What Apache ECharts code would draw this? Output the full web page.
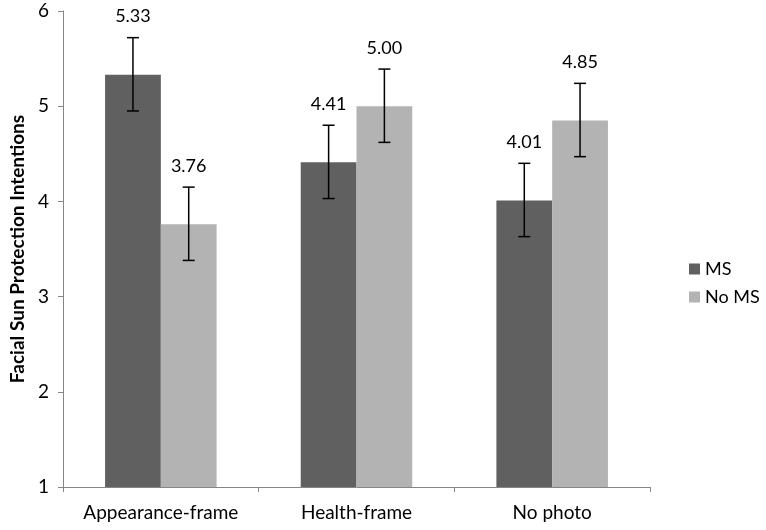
<!DOCTYPE html>
<html>
<head>
<meta charset="utf-8">
<script src="https://cdn.jsdelivr.net/npm/echarts@6/dist/echarts.min.js"></script>
<style>
html,body{margin:0;padding:0;background:#fff;}
#main{width:766px;height:530px;}
</style>
</head>
<body>
<div id="main"></div>
<script>
var categories = ['Appearance-frame', 'Health-frame', 'No photo'];
var msValues = [5.33, 4.41, 4.01];
var noMsValues = [3.76, 5.00, 4.85];
// error bar ends
var msLow = [4.95, 4.03, 3.63];
var msHigh = [5.72, 4.80, 4.40];
var noMsLow = [3.38, 4.62, 4.47];
var noMsHigh = [4.15, 5.39, 5.24];
var yTicks = [1, 2, 3, 4, 5, 6];

var catGap = 0.43;
var fontFam = 'Lato, "Open Sans", sans-serif';

function errData(vals, low, high) {
    var d = [];
    for (var i = 0; i < vals.length; i++) {
        d.push([i, low[i], high[i], vals[i]]);
    }
    return d;
}

function errRender(side) {
    return function (params, api) {
        var band = api.size([1, 0])[0];
        var barW = band * (1 - catGap) / 2;
        var x0 = api.coord([api.value(0), 0])[0] + side * barW / 2;
        var top = api.coord([api.value(0), api.value(2)])[1];
        var bot = api.coord([api.value(0), api.value(1)])[1];
        var cap = 6;
        var st = {stroke: '#000', lineWidth: 1.5};
        return {
            type: 'group',
            children: [
                {type: 'line', shape: {x1: x0, y1: top, x2: x0, y2: bot}, style: st},
                {type: 'line', shape: {x1: x0 - cap, y1: top, x2: x0 + cap, y2: top}, style: st},
                {type: 'line', shape: {x1: x0 - cap, y1: bot, x2: x0 + cap, y2: bot}, style: st},
                {type: 'text', x: x0, y: top - 12, style: {
                    text: api.value(3).toFixed(2), fill: '#000', font: '18px ' + fontFam,
                    align: 'center', verticalAlign: 'bottom'}}
            ]
        };
    };
}

var chart = echarts.init(document.getElementById('main'));
var option = {
    animation: false,
    grid: {left: 62, right: 116, top: 11, bottom: 43},
    legend: {
        orient: 'vertical',
        left: 684,
        top: 255,
        itemWidth: 11,
        itemHeight: 11,
        itemGap: 10,
        icon: 'rect',
        textStyle: {fontSize: 18, color: '#000', fontFamily: fontFam},
        data: ['MS', 'No MS']
    },
    xAxis: {
        type: 'category',
        data: categories,
        axisLine: {lineStyle: {color: '#868686', width: 1}},
        axisTick: {show: true, length: 5, interval: 0, lineStyle: {color: '#868686'}},
        axisLabel: {color: '#000', fontSize: 19, fontFamily: fontFam, margin: 16,
            interval: 0, hideOverlap: false}
    },
    yAxis: {
        type: 'value',
        min: yTicks[0],
        max: yTicks[yTicks.length - 1],
        interval: 1,
        name: 'Facial Sun Protection Intentions',
        nameLocation: 'middle',
        nameGap: 36,
        nameTextStyle: {fontSize: 19, fontWeight: 'bold', color: '#000', fontFamily: fontFam},
        axisLine: {show: true, lineStyle: {color: '#868686', width: 1}},
        axisTick: {show: true, length: 5, lineStyle: {color: '#868686'}},
        axisLabel: {color: '#000', fontSize: 19, fontFamily: fontFam, margin: 14},
        splitLine: {show: false}
    },
    series: [
        {
            name: 'MS', type: 'bar', data: msValues,
            barGap: '0%', barCategoryGap: (catGap * 100) + '%',
            itemStyle: {color: '#606060'}
        },
        {
            name: 'No MS', type: 'bar', data: noMsValues,
            itemStyle: {color: '#b3b3b3'}
        },
        {
            type: 'custom', renderItem: errRender(-1),
            data: errData(msValues, msLow, msHigh), z: 10,
            encode: {x: 0, y: [1, 2]}
        },
        {
            type: 'custom', renderItem: errRender(1),
            data: errData(noMsValues, noMsLow, noMsHigh), z: 10,
            encode: {x: 0, y: [1, 2]}
        }
    ]
};
chart.setOption(option);
</script>
</body>
</html>
